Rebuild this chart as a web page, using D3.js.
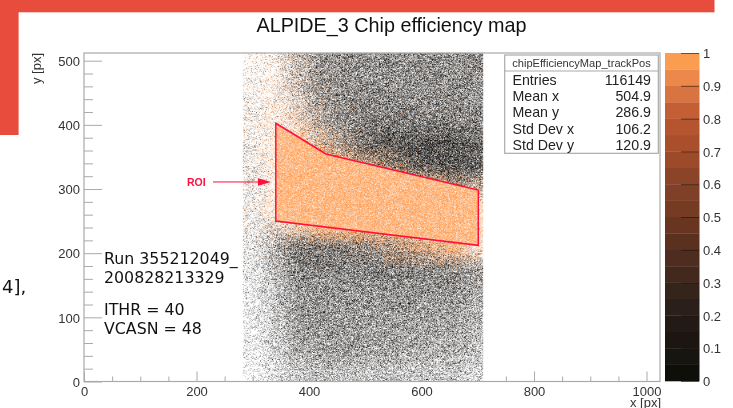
<!DOCTYPE html>
<html><head><meta charset="utf-8">
<script src="https://cdn.jsdelivr.net/npm/d3@7/dist/d3.min.js"></script>
<style>
html,body{margin:0;padding:0;background:#fff;overflow:hidden}
#wrap{position:relative;width:733px;height:408px}
canvas,svg{position:absolute;left:0;top:0}
svg{filter:blur(0.3px)}
</style></head><body><div id="wrap"><canvas id="c" width="733" height="408"></canvas><svg id="s" width="733" height="408"></svg></div>
<script>
// ---- values ----
const xDomain=[0,1024], yDomain=[0,512], zDomain=[0,1];
const xMajor=[0,200,400,600,800,1000];
const xMinor=[50,100,150,250,300,350,450,500,550,650,700,750,850,900,950];
const yMajor=[0,100,200,300,400,500];
const yMinor=[20,40,60,80,120,140,160,180,220,240,260,280,320,340,360,380,420,440,460,480];
const zTicks=[0,0.1,0.2,0.3,0.4,0.5,0.6,0.7,0.8,0.9,1];
const zFormat=d=>String(d);
const paletteLevels=["#0f0f09","#171510","#1c1510","#231a16","#2a1f1a","#35241a","#43281d","#4f2c20","#5a301f","#683520","#753b23","#803f27","#8c4429","#9c4a2a","#a94f2c","#b5552f","#c45f35","#d87442","#ec894a","#fb9d50"];
const statsName="chipEfficiencyMap_trackPos";
const statsLabels=["Entries","Mean x","Mean y","Std Dev x","Std Dev y"];
const statsValues=["116149","504.9","286.9","106.2","120.9"];
const roiCorners=[[341,402.5],[430,354.6],[701,298.5],[701,212.3],[341,250.2]];
const roiLabelY=311;
const runLines=["Run 355212049_","200828213329"];
const settingLines=["ITHR = 40","VCASN = 48"];
// Coarse density of filled bins, percent.
const densityXStart=280, densityXStep=40, densityYTop=512, densityYStep=32;
const efficiencyZeroDensity=[ // dark bins; rows run from y=512 down, columns from x=280
[4,5,26,40,44,46,46,46,46,46,44],
[5,5,22,40,46,46,46,46,46,46,44],
[6,4,15,38,46,48,48,48,48,48,46],
[7,3,8,28,46,52,54,54,54,54,50],
[8,2,3,13,36,56,66,68,68,68,60],
[9,2,1,1,9,22,42,58,66,68,60],
[9,1,0,0,0,1,3,8,18,32,26],
[9,1,0,0,0,0,0,0,0,0,0],
[10,16,10,2,0,0,0,0,0,0,0],
[11,30,56,54,50,45,36,25,13,7,5],
[11,30,48,50,50,50,50,50,48,46,36],
[11,26,44,45,45,45,45,45,43,43,34],
[11,24,42,44,44,44,42,42,40,40,32],
[9,22,40,42,42,42,40,39,37,37,29],
[9,20,35,38,40,40,38,35,33,33,26],
[7,14,24,25,27,27,25,24,24,24,18]];
const efficiencyOneDensity=[ // orange bins, same layout
[5,10,10,4,2,1,1,1,1,1,1],
[6,13,13,5,2,1,1,1,1,1,1],
[7,15,18,8,3,1,1,1,1,1,1],
[7,18,28,16,5,2,1,1,1,1,1],
[7,20,40,45,18,6,2,1,1,1,1],
[7,20,42,72,62,45,25,8,3,1,1],
[7,20,42,72,72,72,70,60,45,28,15],
[7,20,42,72,72,72,72,72,72,72,35],
[5,15,30,70,72,72,72,72,72,72,35],
[2,3,3,3,5,10,22,35,50,60,25],
[1,1,1,1,1,1,1,1,2,4,3],
[0,0,0,0,0,0,0,0,0,0,0],
[0,0,0,0,0,0,0,0,0,0,0],
[0,0,0,0,0,0,0,0,0,0,0],
[0,0,0,0,0,0,0,0,0,0,0],
[0,0,0,0,0,0,0,0,0,0,0]];
const roiOrangeDensity=72, hitRange=[283,709];

// ---- layout ----
const L=84,R=660,T=53,B=381.5;
const x=d3.scaleLinear().domain(xDomain).range([L,R]);
const y=d3.scaleLinear().domain(yDomain).range([B,T]);
const z=d3.scaleLinear().domain(zDomain).range([381,53]);
const zBand=d3.scaleBand().domain(d3.range(paletteLevels.length)).range([381,53]);
const frameC="#aaaaaa", textC="#333333", sans="'Liberation Sans',Arial,sans-serif", deja="'DejaVu Sans',sans-serif";
const svg=d3.select("#s");

// ---- stippled map: the density tables are drawn as a fine dither (texture only) ----
function field(t,dx,dy){
  const u=Math.max(0,Math.min(t[0].length-1.001,(dx-densityXStart)/densityXStep-0.5));
  const v=Math.max(0,Math.min(t.length-1.001,(densityYTop-dy)/densityYStep-0.5));
  const i=Math.floor(u),j=Math.floor(v),a=u-i,b=v-j;
  return (d3.interpolateNumber(d3.interpolateNumber(t[j][i],t[j][i+1])(a),d3.interpolateNumber(t[j+1][i],t[j+1][i+1])(a))(b))/100;
}
function dither(i,j){let h=(i*374761393+j*668265263)|0;h=Math.imul(h^(h>>>13),1274126177);h^=h>>>16;return (h>>>0)/4294967296;}
(function(){
  const ss=2.5,W=Math.round(733*ss),H=Math.round(408*ss);
  const off=document.createElement("canvas");off.width=W;off.height=H;
  const oc=off.getContext("2d");const im=oc.createImageData(W,H);
  for(let j=Math.floor(T*ss);j<B*ss;j++)for(let i=Math.floor(L*ss);i<R*ss;i++){
    const dx=x.invert(i/ss),dy=y.invert(j/ss);
    if(dx<hitRange[0]||dx>hitRange[1])continue;
    let b=field(efficiencyZeroDensity,dx,dy),o=field(efficiencyOneDensity,dx,dy);
    if(d3.polygonContains(roiCorners,[dx,dy])){b=0;o=roiOrangeDensity/100;}
    const t=dither(i,j);let c=null;
    if(t<b)c=[17,15,12];else if(t<b+o)c=[255,160,88];
    if(c){const k=(j*W+i)*4;im.data[k]=c[0];im.data[k+1]=c[1];im.data[k+2]=c[2];im.data[k+3]=255;}
  }
  oc.putImageData(im,0,0);
  const ctx=document.getElementById("c").getContext("2d");
  ctx.imageSmoothingEnabled=true;ctx.imageSmoothingQuality="high";
  ctx.drawImage(off,0,0,733,408);
})();

// ---- slide decoration ----
svg.append("rect").attr("x",0).attr("y",0).attr("width",714.5).attr("height",12.3).attr("fill","#e74c3c");
svg.append("rect").attr("x",0).attr("y",0).attr("width",18.6).attr("height",135).attr("fill","#e74c3c");
svg.append("text").attr("x",2).attr("y",293).attr("font-family",deja).attr("font-size",18).attr("fill","#111").text("4],");

// ---- title ----
svg.append("text").attr("x",391.5).attr("y",32).attr("text-anchor","middle").attr("font-family",sans).attr("font-size",19.8).attr("fill","#111").text("ALPIDE_3 Chip efficiency map");

// ---- axes ----
function style(g){g.selectAll(".domain").remove();g.selectAll("line").attr("stroke",frameC).attr("stroke-width",1);
  g.selectAll("text").attr("font-family",sans).attr("font-size",13).attr("fill",textC);}
svg.append("g").attr("transform",`translate(0,${B})`).call(d3.axisTop(x).tickValues(xMinor).tickSize(5).tickFormat("")).call(style);
const xa=svg.append("g").attr("transform",`translate(0,${B})`).call(d3.axisTop(x).tickValues(xMajor).tickSize(10).tickFormat(d3.format("d"))).call(style);
xa.selectAll("text").attr("text-anchor","middle").attr("dy",0).attr("y",14);
svg.append("g").attr("transform",`translate(${L},0)`).call(d3.axisRight(y).tickValues(yMinor).tickSize(9).tickFormat("")).call(style);
const ya=svg.append("g").attr("transform",`translate(${L},0)`).call(d3.axisRight(y).tickValues(yMajor).tickSize(18).tickFormat(d3.format("d"))).call(style);
ya.selectAll("text").attr("text-anchor","end").attr("x",-4).attr("dy","0.36em");
svg.append("rect").attr("x",L).attr("y",T).attr("width",R-L).attr("height",B-T).attr("fill","none").attr("stroke",frameC).attr("stroke-width",1.2);
svg.append("text").attr("x",661).attr("y",406.5).attr("text-anchor","end").attr("font-family",sans).attr("font-size",13).attr("fill",textC).text("x [px]");
svg.append("text").attr("transform","translate(41,53) rotate(-90)").attr("text-anchor","end").attr("font-family",sans).attr("font-size",13).attr("fill",textC).text("y [px]");

// ---- ROI ----
const line=d3.line().x(d=>x(d[0])).y(d=>y(d[1])).curve(d3.curveLinearClosed);
svg.append("path").attr("d",line(roiCorners)).attr("fill","none").attr("stroke","#ff0f3c").attr("stroke-width",1.5);
const ry=y(roiLabelY);
svg.append("text").attr("x",187).attr("y",ry+4).attr("font-family",sans).attr("font-weight","bold").attr("font-size",10.5).attr("fill","#ff0f3c").text("ROI");
svg.append("line").attr("x1",213).attr("x2",260).attr("y1",ry).attr("y2",ry).attr("stroke","#ff0f3c").attr("stroke-width",1);
svg.append("path").attr("d",`M258,${ry-3.7}L271,${ry}L258,${ry+3.7}Z`).attr("fill","#ff0f3c");

// ---- palette ----
const pal=svg.append("g");
pal.selectAll("rect").data(paletteLevels).join("rect").attr("x",665).attr("width",34.5)
  .attr("y",(d,i)=>zBand(i)).attr("height",zBand.bandwidth()+0.3).attr("fill",d=>d);
svg.append("g").attr("transform","translate(699,0)").call(d3.axisLeft(z).tickValues(zTicks).tickSize(18).tickFormat(zFormat))
  .call(g=>{g.select(".domain").remove();g.selectAll("line").attr("stroke","#1a1208").attr("stroke-opacity",.6);
  g.selectAll("text").attr("font-family",sans).attr("font-size",13).attr("fill",textC).attr("x",4).attr("text-anchor","start").attr("dy","0.36em");});

// ---- stats box ----
const bx=svg.append("g");
bx.append("rect").attr("x",504.7).attr("y",55).attr("width",153.6).attr("height",98.3).attr("fill","#fff").attr("stroke",frameC).attr("stroke-width",1.2);
bx.append("line").attr("x1",504.7).attr("x2",658.3).attr("y1",71).attr("y2",71).attr("stroke",frameC).attr("stroke-width",1.2);
bx.append("text").attr("x",581.5).attr("y",67).attr("text-anchor","middle").attr("font-family",sans).attr("font-size",11.1).attr("fill",textC).text(statsName);
const rowY=[85,101,116.5,134,149.5];
bx.selectAll("text.l").data(statsLabels).join("text").attr("class","l").attr("x",512.5).attr("y",(d,i)=>rowY[i]).attr("font-family",sans).attr("font-size",14.2).attr("fill","#222").text(d=>d);
bx.selectAll("text.v").data(statsValues).join("text").attr("class","v").attr("x",651).attr("y",(d,i)=>rowY[i]).attr("text-anchor","end").attr("font-family",sans).attr("font-size",14.2).attr("fill","#222").text(d=>d);

// ---- annotation ----
const an=svg.append("g").attr("font-family",deja).attr("font-size",15.8).attr("fill","#111");
an.selectAll("text.r").data(runLines).join("text").attr("class","r").attr("x",104).attr("y",(d,i)=>264+19*i).text(d=>d);
an.selectAll("text.s").data(settingLines).join("text").attr("class","s").attr("x",104).attr("y",(d,i)=>315+19*i).text(d=>d);
</script></body></html>
